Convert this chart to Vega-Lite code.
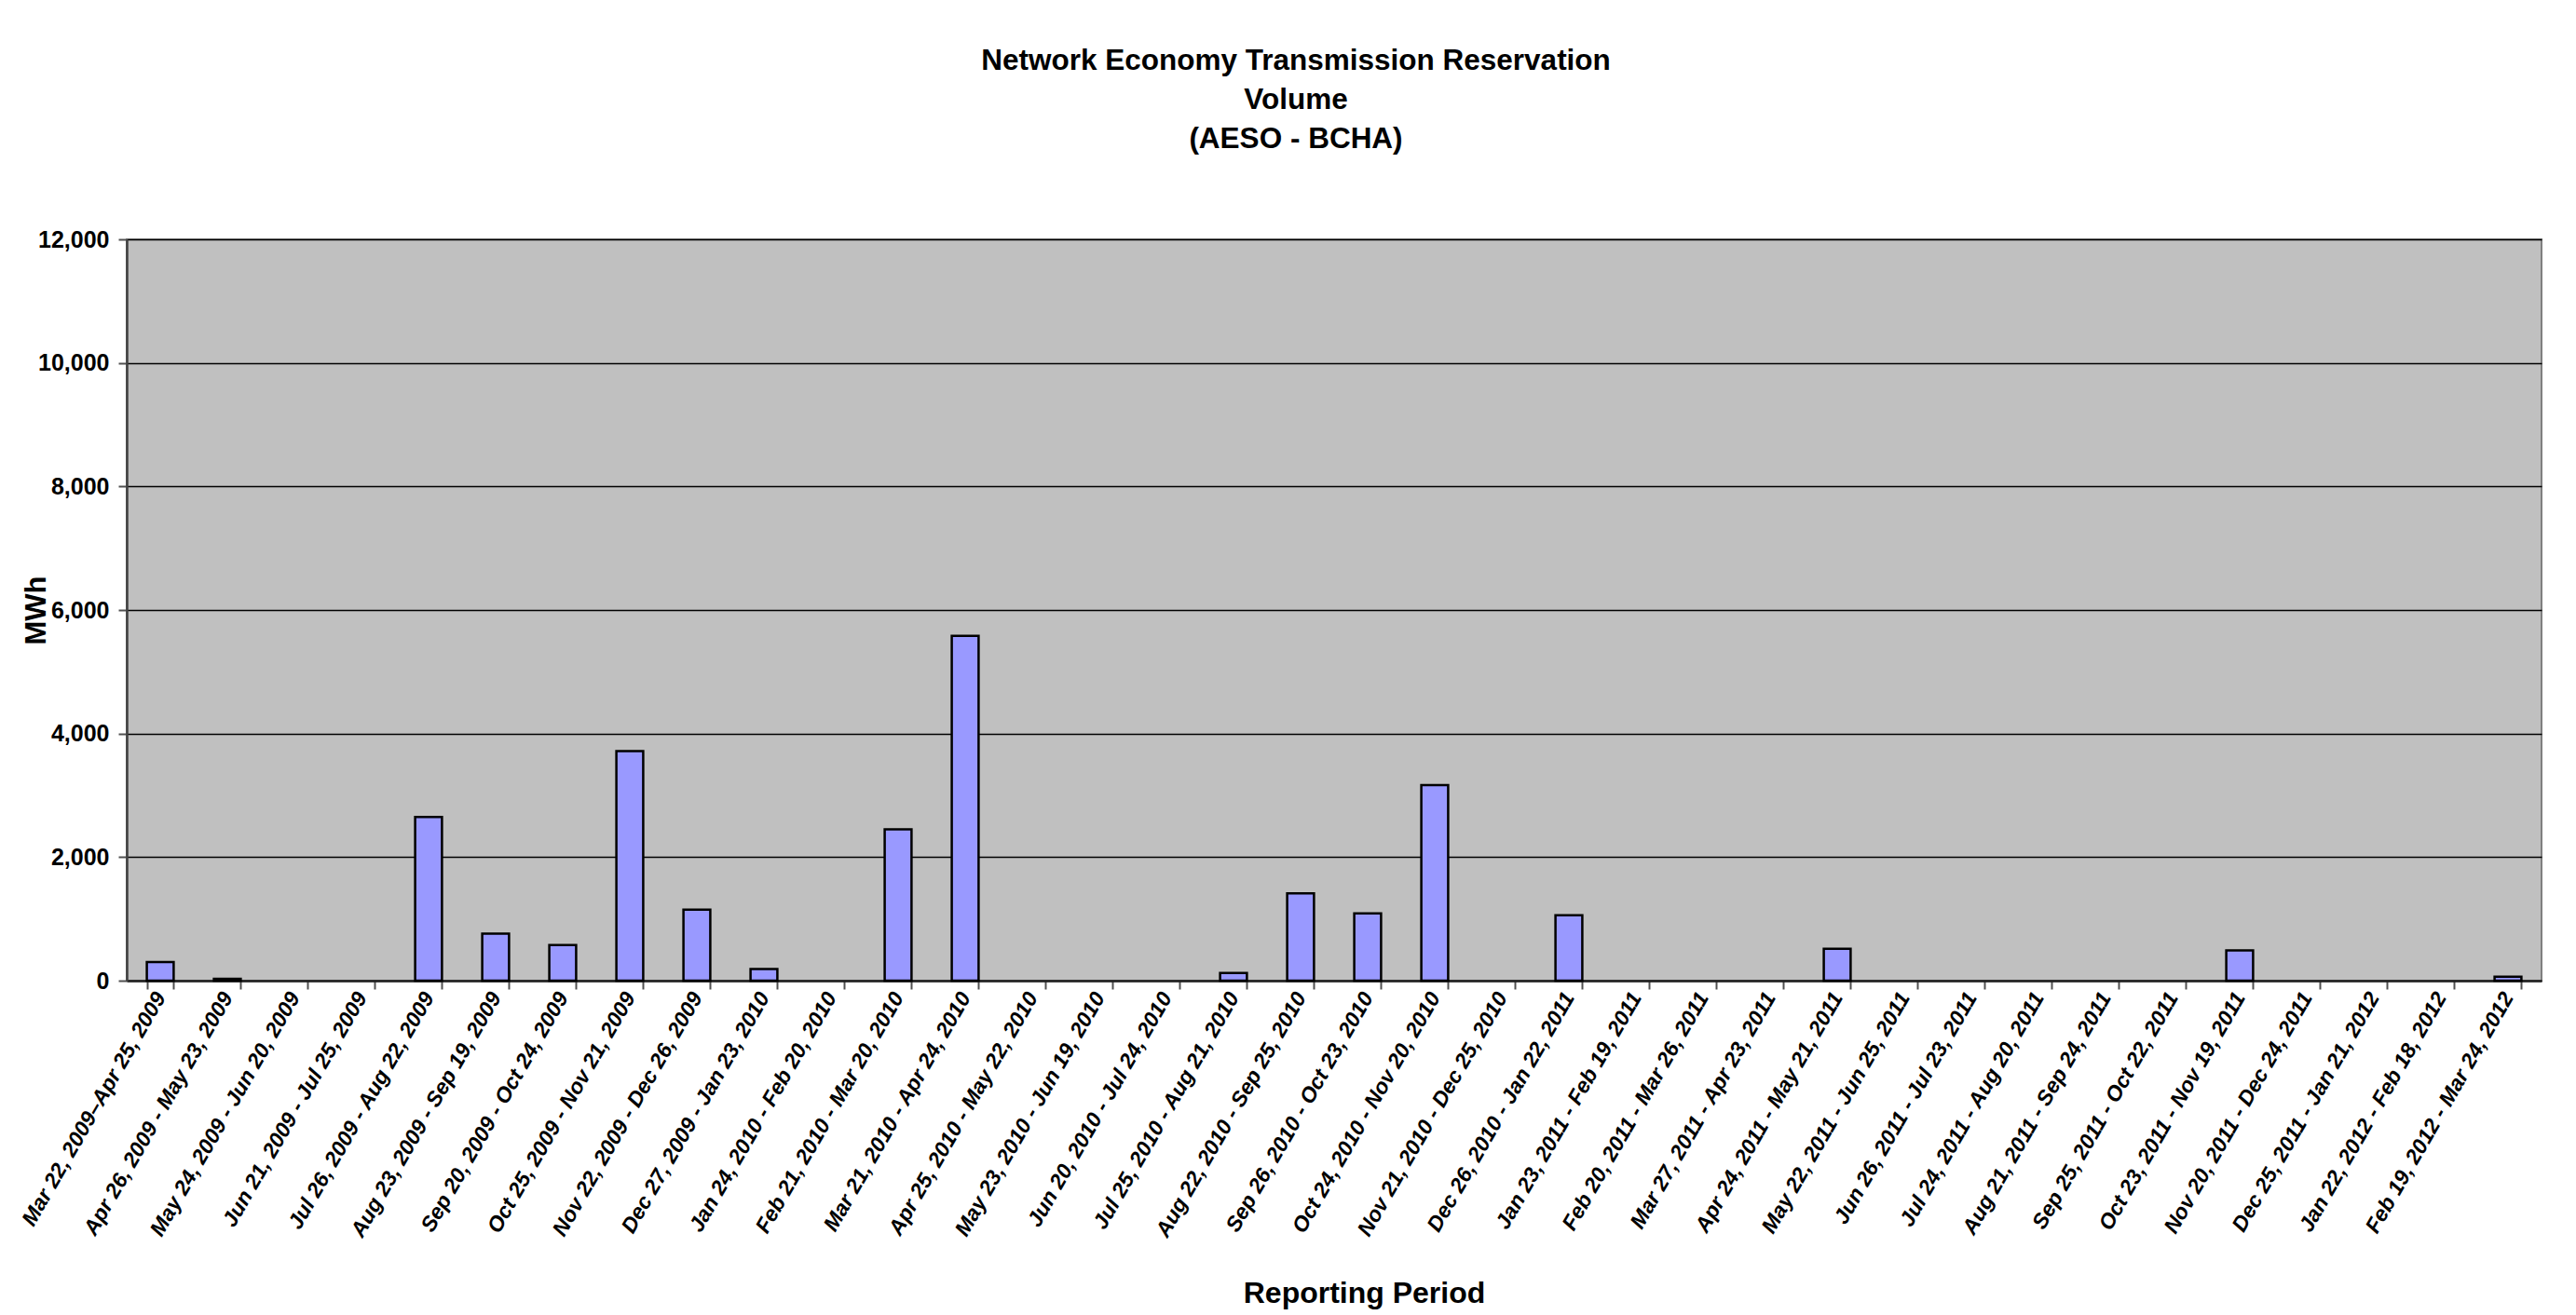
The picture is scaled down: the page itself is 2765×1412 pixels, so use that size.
{
  "$schema": "https://vega.github.io/schema/vega-lite/v6.json",
  "width": 2592,
  "height": 796,
  "autosize": {"type": "none"},
  "padding": {"left": 136, "top": 257, "right": 37, "bottom": 359},
  "background": "white",
  "title": {
    "text": ["Network Economy Transmission Reservation", "Volume", "(AESO - BCHA)"],
    "font": "Liberation Sans",
    "fontSize": 31.5,
    "fontWeight": "bold",
    "lineHeight": 42,
    "offset": 80,
    "frame": "group",
    "anchor": "middle",
    "dx": -41,
    "color": "black"
  },
  "data": {
    "values": [
      {"period": "Mar 22, 2009–Apr 25, 2009", "MWh": 300},
      {"period": "Apr 26, 2009 - May 23, 2009", "MWh": 30},
      {"period": "May 24, 2009 - Jun 20, 2009", "MWh": 0},
      {"period": "Jun 21, 2009 - Jul 25, 2009", "MWh": 0},
      {"period": "Jul 26, 2009 - Aug 22, 2009", "MWh": 2650},
      {"period": "Aug 23, 2009 - Sep 19, 2009", "MWh": 760},
      {"period": "Sep 20, 2009 - Oct 24, 2009", "MWh": 575},
      {"period": "Oct 25, 2009 - Nov 21, 2009", "MWh": 3715},
      {"period": "Nov 22, 2009 - Dec 26, 2009", "MWh": 1150},
      {"period": "Dec 27, 2009 - Jan 23, 2010", "MWh": 190},
      {"period": "Jan 24, 2010 - Feb 20, 2010", "MWh": 0},
      {"period": "Feb 21, 2010 - Mar 20, 2010", "MWh": 2450},
      {"period": "Mar 21, 2010 - Apr 24, 2010", "MWh": 5580},
      {"period": "Apr 25, 2010 - May 22, 2010", "MWh": 0},
      {"period": "May 23, 2010 - Jun 19, 2010", "MWh": 0},
      {"period": "Jun 20, 2010 - Jul 24, 2010", "MWh": 0},
      {"period": "Jul 25, 2010 - Aug 21, 2010", "MWh": 125},
      {"period": "Aug 22, 2010 - Sep 25, 2010", "MWh": 1415},
      {"period": "Sep 26, 2010 - Oct 23, 2010", "MWh": 1090},
      {"period": "Oct 24, 2010 - Nov 20, 2010", "MWh": 3165},
      {"period": "Nov 21, 2010 - Dec 25, 2010", "MWh": 0},
      {"period": "Dec 26, 2010 - Jan 22, 2011", "MWh": 1060},
      {"period": "Jan 23, 2011 - Feb 19, 2011", "MWh": 0},
      {"period": "Feb 20, 2011 - Mar 26, 2011", "MWh": 0},
      {"period": "Mar 27, 2011 - Apr 23, 2011", "MWh": 0},
      {"period": "Apr 24, 2011 - May 21, 2011", "MWh": 515},
      {"period": "May 22, 2011 - Jun 25, 2011", "MWh": 0},
      {"period": "Jun 26, 2011 - Jul 23, 2011", "MWh": 0},
      {"period": "Jul 24, 2011 - Aug 20, 2011", "MWh": 0},
      {"period": "Aug 21, 2011 - Sep 24, 2011", "MWh": 0},
      {"period": "Sep 25, 2011 - Oct 22, 2011", "MWh": 0},
      {"period": "Oct 23, 2011 - Nov 19, 2011", "MWh": 490},
      {"period": "Nov 20, 2011 - Dec 24, 2011", "MWh": 0},
      {"period": "Dec 25, 2011 - Jan 21, 2012", "MWh": 0},
      {"period": "Jan 22, 2012 - Feb 18, 2012", "MWh": 0},
      {"period": "Feb 19, 2012 - Mar 24, 2012", "MWh": 65}
    ]
  },
  "mark": {"type": "bar", "fill": "#9999FF", "stroke": "black", "strokeWidth": 2.5},
  "encoding": {
    "x": {
      "field": "period",
      "type": "nominal",
      "sort": null,
      "scale": {"paddingInner": 0.6, "paddingOuter": 0.3},
      "axis": {
        "title": "Reporting Period",
        "titleFont": "Liberation Sans",
        "titleFontSize": 32,
        "titleFontWeight": "bold",
        "titleColor": "black",
        "titleX": 1328,
        "titleY": 335,
        "titleAlign": "center",
        "titleBaseline": "middle",
        "labelAngle": -60,
        "labelAlign": "right",
        "labelBaseline": "middle",
        "labelFont": "Liberation Sans",
        "labelFontSize": 23,
        "labelFontWeight": "bold",
        "labelFontStyle": "italic",
        "labelColor": "black",
        "labelPadding": 5,
        "labelOverlap": false,
        "labelLimit": 0,
        "tickBand": "extent",
        "tickSize": 9,
        "tickColor": "#505050",
        "tickWidth": 2,
        "domainColor": "#202020",
        "domainWidth": 2.5,
        "grid": false
      }
    },
    "y": {
      "field": "MWh",
      "type": "quantitative",
      "scale": {"domain": [0, 12000], "nice": false},
      "axis": {
        "title": "MWh",
        "titleFont": "Liberation Sans",
        "titleFontSize": 31,
        "titleFontWeight": "bold",
        "titleColor": "black",
        "titleAngle": -90,
        "titleX": -97,
        "titleY": 398,
        "titleAlign": "center",
        "titleBaseline": "middle",
        "values": [0, 2000, 4000, 6000, 8000, 10000, 12000],
        "format": ",d",
        "labelFont": "Liberation Sans",
        "labelFontSize": 25,
        "labelFontWeight": "bold",
        "labelColor": "black",
        "labelPadding": 10,
        "tickSize": 9,
        "tickColor": "#505050",
        "tickWidth": 2,
        "domainColor": "#404040",
        "domainWidth": 2.5,
        "grid": true,
        "gridColor": "#000000",
        "gridWidth": 1.5
      }
    },
    "strokeOpacity": {"condition": {"test": "datum.MWh == 0", "value": 0}, "value": 1}
  },
  "config": {
    "view": {"fill": "#C0C0C0", "stroke": "#808080", "strokeWidth": 2}
  }
}
